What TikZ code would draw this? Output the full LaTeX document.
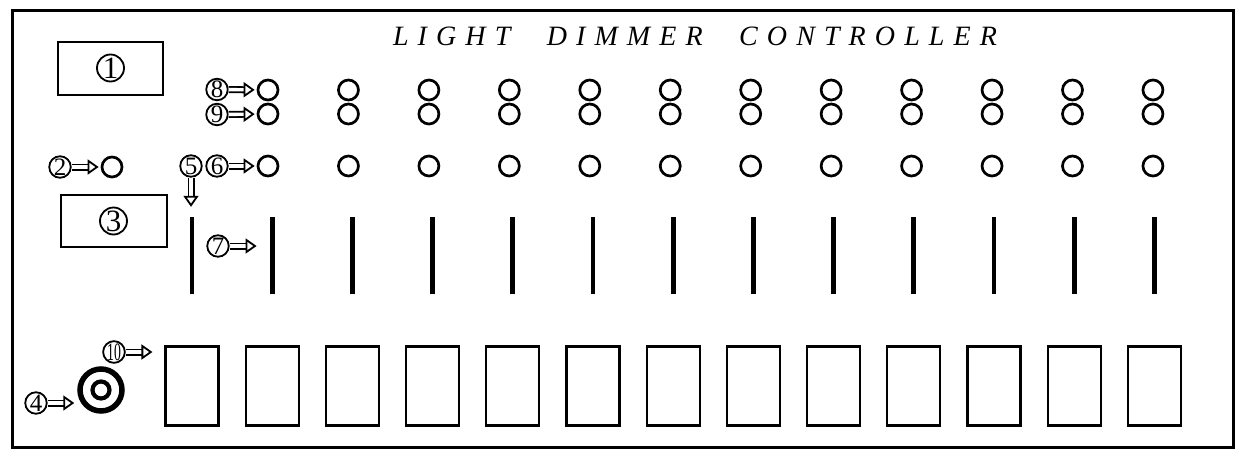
\documentclass[tikz,border=0pt]{standalone}
\usepackage{fontspec}
\usepackage{graphicx}
\setmainfont{Liberation Serif}
\usetikzlibrary{arrows.meta,calc}
\newcommand\lsp{\hskip 0pt plus 1fil\relax}
\newcommand\wsp{\hskip 0pt plus 4fil\relax}
\tikzset{
  lbl/.style={circle,draw,line width=1.8pt,minimum size=21.5pt,inner sep=0pt,font=\fontsize{25}{25}\selectfont},
  biglbl/.style={lbl,minimum size=27pt,font=\fontsize{31}{31}\selectfont},
  hollow/.style={double=white,double distance=3.4pt,line width=1.8pt,
    -{Triangle[open,length=11pt,width=15pt,line width=1.8pt]},shorten >=2pt,shorten <=0pt},
  led/.style={circle,draw,line width=2.7pt,minimum size=20pt,inner sep=0pt},
  fader/.style={rectangle,fill=black,minimum width=4.8pt,minimum height=77pt,inner sep=0pt},
  flash/.style={rectangle,draw,line width=2.1pt,minimum width=53pt,minimum height=79pt,inner sep=0pt},
  panelbox/.style={rectangle,draw,line width=2pt,inner sep=0pt},
}
\begin{document}
\begin{tikzpicture}[x=1pt,y=-1pt]
\useasboundingbox (0,0) rectangle (1237,450);
\draw[line width=3pt] (12,10) rectangle (1233,447);
\node (title) at (695,36) {\fontsize{28}{28}\selectfont\itshape\makebox[604pt][s]{%
L\lsp I\lsp G\lsp H\lsp T\wsp D\lsp I\lsp M\lsp M\lsp E\lsp R\wsp C\lsp O\lsp N\lsp T\lsp R\lsp O\lsp L\lsp L\lsp E\lsp R}};
% boxes 1 and 3
\node[panelbox,minimum width=105pt,minimum height=53pt] (box1) at (110.5,68) {};
\node[biglbl] (l1) at (box1) {1};
\node[panelbox,minimum width=106pt,minimum height=52pt] (box3) at (113.5,221) {};
\node[biglbl] (l3) at (box3) {3};
% indicator 2
\node[led] (led2) at (112,167) {};
\node[lbl] (l2) at (60,167) {2};
% columns of indicators
\foreach \i in {1,...,12}{
  \pgfmathsetmacro\xx{268+80.45*(\i-1)}
  \node[led] (a\i) at (\xx,90) {};
  \node[led] (b\i) at (\xx,114) {};
  \node[led] (c\i) at (\xx,166) {};
}
% faders and flash buttons
\foreach \j in {1,...,13}{
  \pgfmathsetmacro\xx{192+80.2*(\j-1)}
  \node[fader] (s\j) at (\xx,255.5) {};
  \node[flash] (f\j) at (\xx,386) {};
}
% knob 4
\node[circle,draw,line width=5.5pt,minimum size=42pt,inner sep=0pt] (k4) at (101,390) {};
\node[circle,draw,line width=4.2pt,minimum size=17pt,inner sep=0pt] (k4in) at (k4) {};
% labels
\node[lbl] (l8) at (217,89.5) {8};
\node[lbl] (l9) at (217,114.5) {9};
\node[lbl] (l5) at (191,166) {5};
\node[lbl] (l6) at (217,166) {6};
\node[lbl] (l7) at (218,246) {7};
\node[lbl] (l10) at (114,352) {\scalebox{0.55}[1]{10}};
\node[lbl] (l4) at (36,403) {4};
% arrows
\draw[hollow] (l2) -- (led2);
\draw[hollow] (l8) -- (a1);
\draw[hollow] (l9) -- (b1);
\draw[hollow] (l6) -- (c1);
\draw[hollow,shorten >=10pt] (l5) -- (l5 |- s1.north);
\draw[hollow,shorten >=13pt] (l7) -- (l7 -| s2.west);
\draw[hollow,shorten >=12pt] (l10) -- (l10 -| f1.west);
\draw[hollow,shorten >=3pt] (l4) -- (l4 -| k4.west);
\end{tikzpicture}
\end{document}
